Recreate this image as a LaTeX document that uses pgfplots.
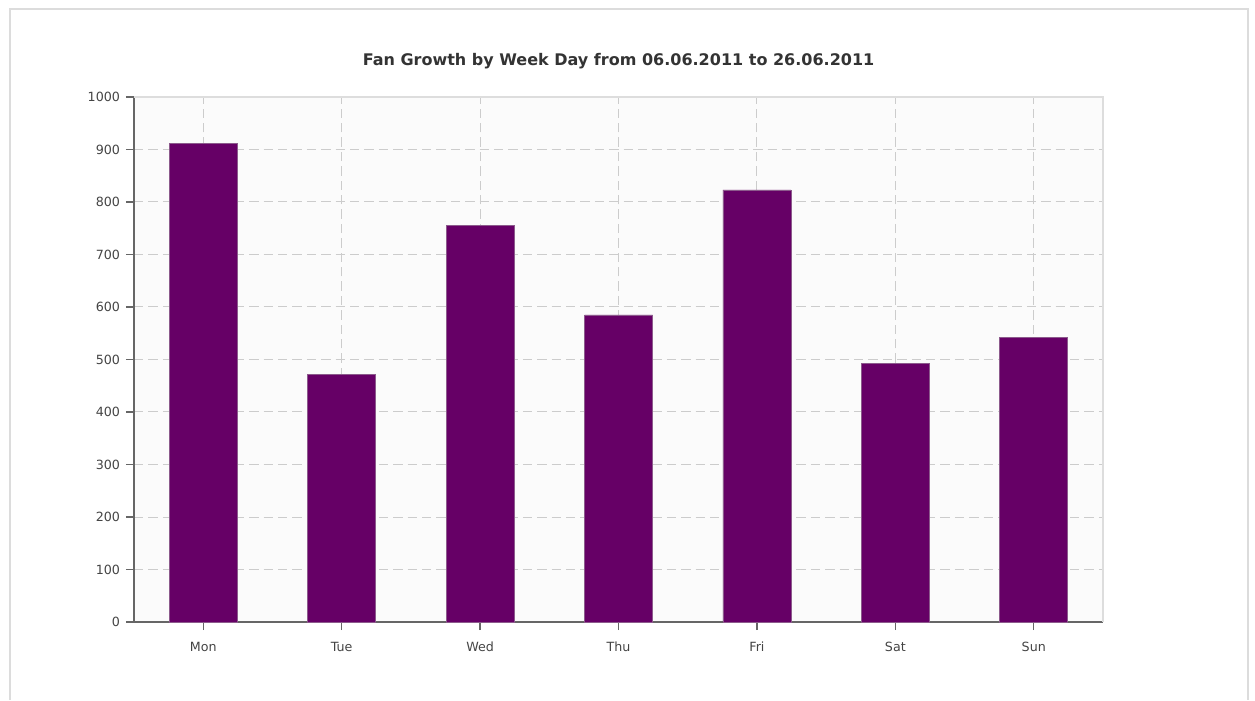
\documentclass[border=0pt]{standalone}
\usepackage{fontspec}
\setmainfont{DejaVu Sans}
\usepackage{pgfplots}
\pgfplotsset{compat=1.18}
\definecolor{barfill}{HTML}{660066}
\definecolor{baredge}{HTML}{8C5A8C}
\definecolor{gridc}{HTML}{CCCCCC}
\definecolor{axisdark}{HTML}{666666}
\definecolor{axislight}{HTML}{DDDDDD}
\definecolor{labelc}{HTML}{444444}
\definecolor{framec}{HTML}{DCDCDC}

\begin{document}
% 1 px of the reference = 0.75pt
\begin{tikzpicture}
\begin{scope}[x=0.75pt,y=0.75pt]
\path[use as bounding box] (0,0) rectangle (1255,700);
\draw[framec, line width=1.5pt] (10,0) -- (10,691) -- (1248,691) -- (1248,0);
\node[font=\bfseries\fontsize{12}{14}\selectfont, text=black!80] at (618.5,639) {Fan Growth by Week Day from 06.06.2011 to 26.06.2011};
\end{scope}
\begin{axis}[
  at={(100.5pt,58.5pt)}, anchor=south west,
  scale only axis, width=726.75pt, height=393.75pt,
  xmin=-0.5, xmax=6.5, ymin=0, ymax=1000,
  xtick={0,...,6}, xticklabels={Mon,Tue,Wed,Thu,Fri,Sat,Sun},
  ytick={0,100,...,1000},
  axis lines*=left,
  axis line style={axisdark, line width=1pt, -},
  axis background/.style={fill=black!1.5},
  tick style={axisdark, line width=1pt},
  tick align=outside, major tick length=6pt,
  grid=major, grid style={gridc, line width=0.75pt, dash pattern=on 7pt off 3.8pt},
  tick label style={font=\fontsize{9.5}{11}\selectfont, text=labelc},
  xticklabel style={yshift=-5.5pt},
  yticklabel style={xshift=-1pt},
  /pgf/number format/assume math mode=true,
  yticklabel={\pgfmathprintnumber[fixed,1000 sep={}]{\tick}},
  clip=false,
]
\draw[axislight, line width=1pt] (rel axis cs:0,1) -- (rel axis cs:1,1) -- (rel axis cs:1,0);
\addplot[ybar, bar width=51pt, fill=barfill, draw=baredge, line width=0.5pt]
  coordinates {(0,912) (1,472) (2,755) (3,585) (4,823) (5,492) (6,542)};
\end{axis}
\end{tikzpicture}
\end{document}
